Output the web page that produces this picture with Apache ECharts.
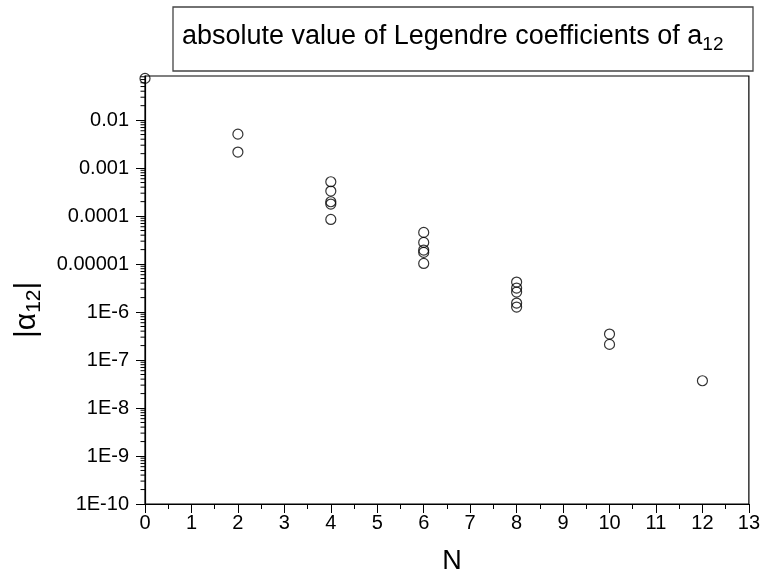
<!DOCTYPE html>
<html>
<head>
<meta charset="utf-8">
<script src="https://cdn.jsdelivr.net/npm/echarts@6/dist/echarts.min.js"></script>
<style>
  html, body { margin: 0; padding: 0; background: #fff; }
  #chart { width: 763px; height: 575px; }
</style>
</head>
<body>
<div id="chart"></div>
<script>
// ---- data ----
const orders = [0, 2, 4, 6, 8, 10, 12];
const coefN0  = [0.074];
const coefN2  = [0.0051, 0.00216];
const coefN4  = [5.19e-4, 3.32e-4, 1.99e-4, 1.78e-4, 8.5e-5];
const coefN6  = [4.57e-5, 2.83e-5, 1.96e-5, 1.75e-5, 1.03e-5];
const coefN8  = [4.22e-6, 3.16e-6, 2.61e-6, 1.54e-6, 1.27e-6];
const coefN10 = [3.48e-7, 2.12e-7];
const coefN12 = [3.7e-8];
const coefByOrder = [coefN0, coefN2, coefN4, coefN6, coefN8, coefN10, coefN12];

const xTickLabels = ['0','1','2','3','4','5','6','7','8','9','10','11','12','13'];
const yTickLabels = { '-2':'0.01', '-3':'0.001', '-4':'0.0001', '-5':'0.00001',
  '-6':'1E-6', '-7':'1E-7', '-8':'1E-8', '-9':'1E-9', '-10':'1E-10' };
const minorMantissas = [2, 3, 4, 5, 6, 7, 8, 9];

const Y_MIN = 1e-10, Y_MAX = 0.083;

// build scatter pairs
const points = [];
orders.forEach((n, i) => coefByOrder[i].forEach(v => points.push([n, v])));

// minor tick values for the log axis (decoration only)
const minorTicks = [];
for (let k = -10; k <= -2; k++) {
  minorMantissas.forEach(m => {
    const v = m * Math.pow(10, k);
    if (v < Y_MAX) minorTicks.push([0, v]);
  });
}

const chart = echarts.init(document.getElementById('chart'), null, { renderer: 'canvas' });
const FONT = '"Liberation Sans", Arial, sans-serif';

chart.setOption({
  backgroundColor: '#fff',
  animation: false,
  grid: {
    left: 145, right: 11, top: 76, bottom: 71,
    show: true, borderColor: '#000', borderWidth: 1.2, backgroundColor: 'transparent'
  },
  xAxis: {
    type: 'value', min: 0, max: 13, interval: 1,
    axisLine: { show: true, lineStyle: { color: '#000', width: 1.2 } },
    axisTick: { show: true, length: 9, lineStyle: { color: '#000', width: 1 } },
    minorTick: { show: true, splitNumber: 2, length: 5, lineStyle: { color: '#000', width: 1 } },
    splitLine: { show: false },
    minorSplitLine: { show: false },
    axisLabel: {
      color: '#000', fontSize: 20, fontFamily: FONT, margin: 9,
      formatter: v => xTickLabels[Math.round(v)] ?? ''
    }
  },
  yAxis: {
    type: 'log', logBase: 10, min: Y_MIN, max: Y_MAX, splitNumber: 9,
    axisLine: { show: true, lineStyle: { color: '#000', width: 1.2 } },
    axisTick: { show: true, length: 9, lineStyle: { color: '#000', width: 1 } },
    splitLine: { show: false },
    axisLabel: {
      color: '#000', fontSize: 20, fontFamily: FONT, margin: 16,
      showMaxLabel: false,
      formatter: v => {
        const e = Math.log10(v);
        if (Math.abs(e - Math.round(e)) > 1e-6) return '';
        return yTickLabels[String(Math.round(e))] ?? '';
      }
    }
  },
  series: [
    {
      type: 'custom',
      silent: true,
      clip: false,
      data: minorTicks,
      renderItem: (params, api) => {
        const p = api.coord([api.value(0), api.value(1)]);
        return {
          type: 'line',
          shape: { x1: p[0] - 4.5, y1: p[1], x2: p[0], y2: p[1] },
          style: { stroke: '#000', lineWidth: 1 }
        };
      },
      z: 1
    },
    {
      type: 'scatter',
      data: points,
      symbol: 'circle',
      symbolSize: 10,
      clip: false,
      itemStyle: { color: 'rgba(0,0,0,0)', borderColor: '#000', borderWidth: 1.2 },
      z: 3
    }
  ],
  graphic: [
    {
      type: 'rect',
      shape: { x: 173, y: 7, width: 580, height: 64 },
      style: { fill: '#fff', stroke: '#444', lineWidth: 1.3 },
      z: 10
    },
    {
      type: 'text',
      left: 182, top: 23,
      style: {
        text: '{m|absolute value of Legendre coefficients of a}{s|12}',
        rich: {
          m: { fontSize: 27, fontFamily: FONT, fill: '#000', lineHeight: 36 },
          s: { fontSize: 19, fontFamily: FONT, fill: '#000', lineHeight: 17, verticalAlign: 'bottom' }
        }
      },
      z: 11
    },
    {
      type: 'text',
      x: 9, y: 338,
      rotation: Math.PI / 2,
      style: {
        text: '{m||α}{s|12}{m||}',
        rich: {
          m: { fontSize: 30, fontFamily: FONT, fill: '#000', lineHeight: 36 },
          s: { fontSize: 21, fontFamily: FONT, fill: '#000', lineHeight: 21, verticalAlign: 'bottom' }
        }
      },
      z: 11
    },
    {
      type: 'text',
      x: 452, y: 562,
      style: {
        text: 'N', fontSize: 27, fontFamily: FONT, fill: '#000',
        align: 'center', verticalAlign: 'middle'
      },
      z: 11
    }
  ]
});
</script>
</body>
</html>
